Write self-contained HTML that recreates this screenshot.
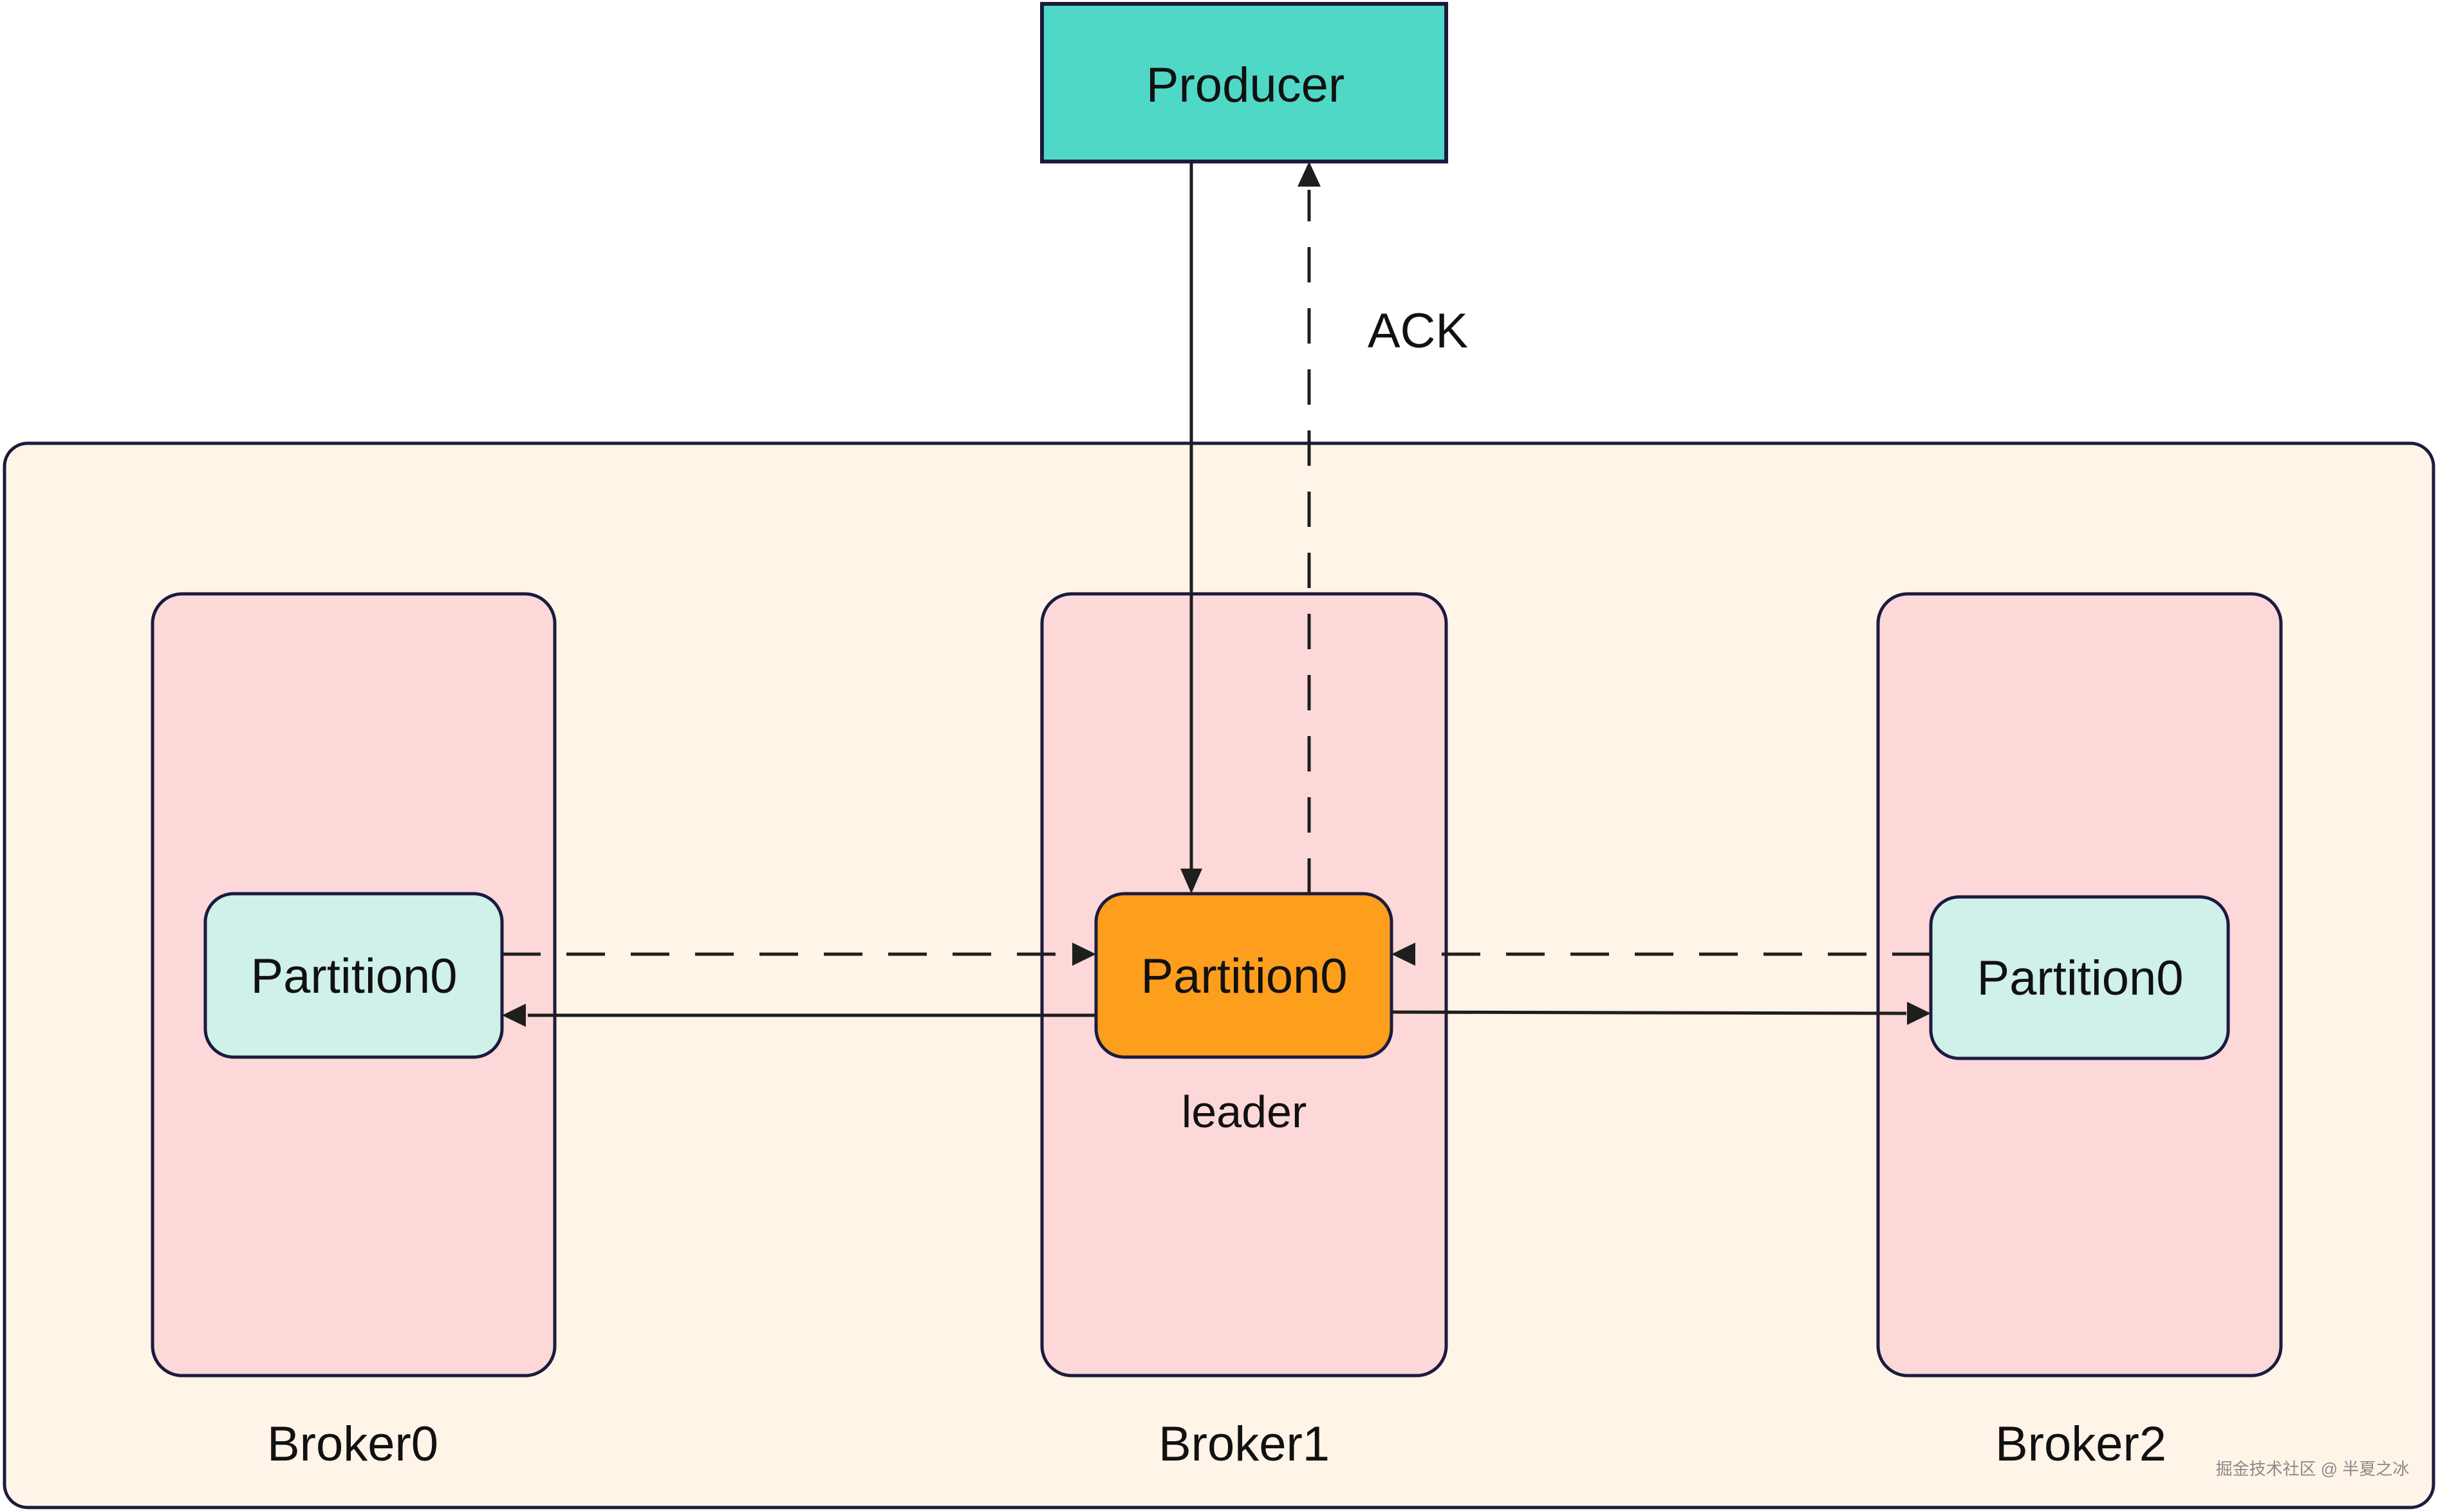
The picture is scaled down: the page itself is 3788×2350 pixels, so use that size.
<!DOCTYPE html>
<html><head><meta charset="utf-8">
<style>
html,body{margin:0;padding:0;background:#fff;}
svg{display:block;}
text{font-family:"Liberation Sans","Noto Sans CJK SC",sans-serif;fill:#111;}
</style></head>
<body>
<svg width="3788" height="2350" viewBox="0 0 3788 2350" xmlns="http://www.w3.org/2000/svg">
<defs>
<marker id="ah" markerWidth="10" markerHeight="10" refX="9" refY="5" orient="auto" markerUnits="userSpaceOnUse" viewBox="0 0 10 10">
</marker>
</defs>
<!-- outer container -->
<rect x="7" y="689" width="3774" height="1654" rx="36" fill="#fef4e8" stroke="#1b1b3f" stroke-width="5"/>
<!-- brokers -->
<rect x="237" y="923" width="625" height="1215" rx="46" fill="#fdd8d8" stroke="#1b1b3f" stroke-width="5"/>
<rect x="1619" y="923" width="628" height="1215" rx="46" fill="#fdd8d8" stroke="#1b1b3f" stroke-width="5"/>
<rect x="2918" y="923" width="626" height="1215" rx="46" fill="#fdd8d8" stroke="#1b1b3f" stroke-width="5"/>
<!-- producer -->
<rect x="1619" y="6" width="628" height="245" fill="#4fd8c6" stroke="#1b1b3f" stroke-width="6"/>
<text x="1935" y="158" font-size="76" text-anchor="middle">Producer</text>
<!-- partitions -->
<rect x="319" y="1389" width="461" height="254" rx="44" fill="#d0f0ea" stroke="#1b1b3f" stroke-width="5"/>
<rect x="1703" y="1389" width="459" height="254" rx="44" fill="#fd9e1c" stroke="#1b1b3f" stroke-width="5"/>
<rect x="3000" y="1394" width="462" height="251" rx="44" fill="#d0f0ea" stroke="#1b1b3f" stroke-width="5"/>
<text x="550" y="1543" font-size="76" text-anchor="middle">Partition0</text>
<text x="1933" y="1543" font-size="76" text-anchor="middle">Partition0</text>
<text x="3232" y="1546" font-size="76" text-anchor="middle">Partition0</text>
<!-- connectors -->
<g stroke="#1e1e1e" stroke-width="5" fill="none">
<line x1="1851" y1="251" x2="1851" y2="1350"/>
<line x1="2034" y1="1389" x2="2034" y2="295" stroke-dasharray="55 40"/>
<line x1="780" y1="1483" x2="1665" y2="1483" stroke-dasharray="60 40"/>
<line x1="1703" y1="1578" x2="820" y2="1578"/>
<line x1="3000" y1="1483" x2="2200" y2="1483" stroke-dasharray="60 40"/>
<line x1="2162" y1="1573" x2="2962" y2="1575"/>
</g>
<g fill="#1e1e1e">
<polygon points="1851,1389 1834,1350 1868,1350"/>
<polygon points="2034,251 2016,290 2052,290"/>
<polygon points="1703,1483 1666,1465 1666,1501"/>
<polygon points="780,1578 817,1560 817,1596"/>
<polygon points="2162,1483 2199,1465 2199,1501"/>
<polygon points="3000,1575 2963,1557 2963,1593"/>
</g>
<!-- labels -->
<text x="2203" y="540" font-size="76" text-anchor="middle">ACK</text>
<text x="1933" y="1752" font-size="70" text-anchor="middle">leader</text>
<text x="548" y="2270" font-size="76" text-anchor="middle">Broker0</text>
<text x="1933" y="2270" font-size="76" text-anchor="middle">Broker1</text>
<text x="3233" y="2270" font-size="76" text-anchor="middle">Broker2</text>
<text x="3593" y="2292" font-size="26" text-anchor="middle" style="fill:#8a8a8a">掘金技术社区 @ 半夏之冰</text>
</svg>
</body></html>
